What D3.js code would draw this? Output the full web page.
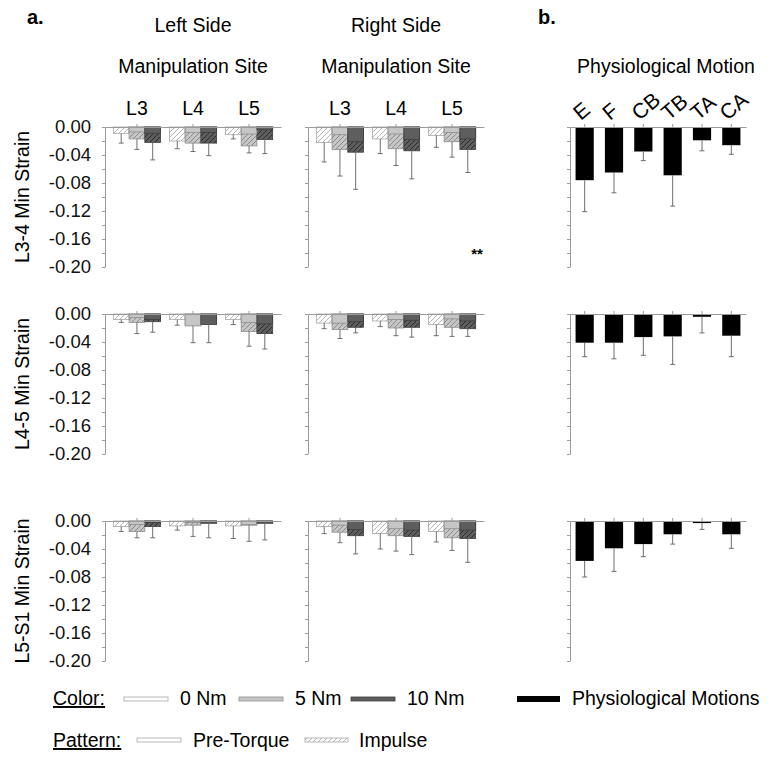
<!DOCTYPE html>
<html>
<head>
<meta charset="utf-8">
<script src="https://cdn.jsdelivr.net/npm/d3@7"></script>
<style>
body { margin: 0; background: #fff; }
svg { display: block; font-family: "Liberation Sans", Arial, sans-serif; }
</style>
</head>
<body>
<div id="chart"></div>
<script>
var width = 774;
var height = 763;

// categories
var rowNames = ["L3-4 Min Strain", "L4-5 Min Strain", "L5-S1 Min Strain"];
var sites = ["L3", "L4", "L5"];
var torques = ["0 Nm", "5 Nm", "10 Nm"];
var motions = ["E", "F", "CB", "TB", "TA", "CA"];
var yTicks = [0, -0.02, -0.04, -0.06, -0.08, -0.10, -0.12, -0.14, -0.16, -0.18, -0.20];

// left side, one row per level, values ordered L3 (0,5,10 Nm), L4 (...), L5 (...)
var leftPre = [
    [0, -0.007, -0.009, 0, -0.008, -0.008, 0, -0.010, -0.004],
    [0, -0.005, -0.008, 0, -0.017, -0.015, 0, -0.012, -0.014],
    [0, -0.005, -0.002, 0, -0.002, -0.003, 0, -0.005, -0.003]
];
var leftImpulse = [
    [-0.009, -0.017, -0.022, -0.020, -0.023, -0.023, -0.011, -0.027, -0.018],
    [-0.008, -0.012, -0.011, -0.008, -0.016, -0.014, -0.008, -0.025, -0.028],
    [-0.008, -0.015, -0.008, -0.007, -0.006, -0.003, -0.007, -0.006, -0.003]
];
var leftSD = [
    [0.014, 0.015, 0.025, 0.011, 0.012, 0.018, 0.006, 0.010, 0.020],
    [0.004, 0.016, 0.015, 0.008, 0.024, 0.026, 0.007, 0.021, 0.022],
    [0.007, 0.009, 0.016, 0.006, 0.016, 0.021, 0.018, 0.023, 0.024]
];

// right side
var rightPre = [
    [0, -0.011, -0.021, 0, -0.010, -0.018, 0, -0.008, -0.017],
    [0, -0.013, -0.011, 0, -0.008, -0.009, 0, -0.007, -0.010],
    [0, -0.006, -0.012, 0, -0.011, -0.013, 0, -0.011, -0.013]
];
var rightImpulse = [
    [-0.022, -0.032, -0.036, -0.017, -0.031, -0.034, -0.012, -0.021, -0.032],
    [-0.013, -0.022, -0.019, -0.010, -0.020, -0.019, -0.015, -0.019, -0.021],
    [-0.008, -0.016, -0.021, -0.018, -0.021, -0.022, -0.015, -0.024, -0.025]
];
var rightSD = [
    [0.028, 0.038, 0.053, 0.021, 0.024, 0.040, 0.017, 0.022, 0.033],
    [0.008, 0.013, 0.008, 0.008, 0.011, 0.014, 0.016, 0.013, 0.011],
    [0.010, 0.015, 0.026, 0.022, 0.022, 0.026, 0.015, 0.018, 0.034]
];

// physiological motions
var physMean = [
    [-0.076, -0.065, -0.035, -0.069, -0.019, -0.026],
    [-0.041, -0.041, -0.033, -0.032, -0.004, -0.031],
    [-0.057, -0.039, -0.033, -0.019, -0.003, -0.019]
];
var physSD = [
    [0.045, 0.029, 0.013, 0.044, 0.015, 0.013],
    [0.020, 0.023, 0.026, 0.040, 0.023, 0.030],
    [0.023, 0.033, 0.018, 0.014, 0.009, 0.020]
];

var torqueFill = ["#ffffff", "#c6c6c6", "#5e5e5e"];
var torqueStroke = ["#a8a8a8", "#8e8e8e", "#3e3e3e"];
var hatchStroke = ["#b4b4b4", "#8a8a8a", "#2a2a2a"];

var rowZero = [127, 314, 521];
var panelH = 140;
var panelW = 176;
var leftX = 105, rightX = 308, physX = 570;
var fs = "19.5px";

var svg = d3.select("#chart")
            .append("svg")
            .attr("width", width)
            .attr("height", height);

// hatch patterns
var defs = svg.append("defs");
torqueFill.forEach(function(c, k) {
    var p = defs.append("pattern")
        .attr("id", "hatch" + k)
        .attr("patternUnits", "userSpaceOnUse")
        .attr("width", 5)
        .attr("height", 5);
    p.append("rect").attr("width", 5).attr("height", 5).attr("fill", c);
    p.append("path")
        .attr("d", "M-1,1 l2,-2 M0,5 l5,-5 M4,6 l2,-2")
        .attr("stroke", hatchStroke[k])
        .attr("stroke-width", 1);
});

var y = d3.scaleLinear().domain([0, -0.2]).range([0, panelH]);

var xSite = d3.scaleBand().domain(sites).range([0, panelW]).paddingOuter(0.07);
var xTorque = d3.scaleBand().domain(torques).range([0, xSite.bandwidth()]).paddingOuter(0.28);
var xMotion = d3.scaleBand().domain(motions).range([0, panelW]).paddingInner(0.38).paddingOuter(0.19);

function drawAxes(g, xScale, showLabels) {
    var yAxis = d3.axisLeft(y)
        .tickValues(yTicks)
        .tickSize(3)
        .tickSizeOuter(0)
        .tickPadding(11)
        .tickFormat(function(d, i) { return (showLabels && i % 2 == 0) ? d.toFixed(2) : ""; });
    var ya = g.append("g").call(yAxis);
    ya.select(".domain").attr("stroke", "#9a9a9a");
    ya.selectAll(".tick line").attr("stroke", "#9a9a9a");
    ya.selectAll("text")
        .attr("fill", "#111")
        .style("font-size", "18.5px")
        .style("font-family", "Liberation Sans, Arial, sans-serif");

    var xAxis = d3.axisTop(xScale)
        .tickSize(3)
        .tickSizeOuter(0)
        .tickFormat("");
    var xa = g.append("g").call(xAxis);
    xa.select(".domain").attr("stroke", "#9a9a9a");
    xa.selectAll(".tick line").attr("stroke", "#9a9a9a");
}

function errorBar(g, cx, from, sd) {
    g.append("line")
        .attr("x1", cx).attr("x2", cx)
        .attr("y1", y(from)).attr("y2", y(from - sd))
        .attr("stroke", "#6e6e6e")
        .attr("stroke-width", 1);
    g.append("line")
        .attr("x1", cx - 2.5).attr("x2", cx + 2.5)
        .attr("y1", y(from - sd)).attr("y2", y(from - sd))
        .attr("stroke", "#6e6e6e")
        .attr("stroke-width", 1);
}

function drawSide(x0, pre, imp, sd) {
    rowZero.forEach(function(z, r) {
        var g = svg.append("g").attr("transform", "translate(" + x0 + "," + z + ")");
        var bars = [];
        sites.forEach(function(s, si) {
            torques.forEach(function(t, ti) {
                var i = si * 3 + ti;
                bars.push({ site: s, torque: t, k: ti, pre: pre[r][i], imp: imp[r][i], sd: sd[r][i] });
            });
        });

        var bx = function(d) { return xSite(d.site) + xTorque(d.torque); };
        var bw = xTorque.bandwidth();

        // impulse (hatched)
        g.selectAll("rect.imp")
            .data(bars)
            .enter().append("rect")
            .attr("class", "imp")
            .attr("x", bx)
            .attr("y", y(0))
            .attr("width", bw)
            .attr("height", function(d) { return y(d.imp) - y(0); })
            .attr("fill", function(d) { return "url(#hatch" + d.k + ")"; })
            .attr("stroke", function(d) { return torqueStroke[d.k]; })
            .attr("stroke-width", 0.8);

        // pre-torque (solid)
        g.selectAll("rect.pre")
            .data(bars.filter(function(d) { return d.pre < 0; }))
            .enter().append("rect")
            .attr("class", "pre")
            .attr("x", bx)
            .attr("y", y(0))
            .attr("width", bw)
            .attr("height", function(d) { return y(d.pre) - y(0); })
            .attr("fill", function(d) { return torqueFill[d.k]; })
            .attr("stroke", function(d) { return torqueStroke[d.k]; })
            .attr("stroke-width", 0.8);

        bars.forEach(function(d) {
            errorBar(g, bx(d) + bw / 2, Math.min(d.pre, d.imp), d.sd);
        });

        drawAxes(g, xSite, x0 == leftX);

        if (r == 0) {
            g.selectAll("text.site")
                .data(sites)
                .enter().append("text")
                .attr("class", "site")
                .attr("x", function(d) { return xSite(d) + xSite.bandwidth() / 2; })
                .attr("y", -12)
                .attr("text-anchor", "middle")
                .style("font-size", fs)
                .text(function(d) { return d; });
        }
    });
}

drawSide(leftX, leftPre, leftImpulse, leftSD);
drawSide(rightX, rightPre, rightImpulse, rightSD);

// physiological motion panel
rowZero.forEach(function(z, r) {
    var g = svg.append("g").attr("transform", "translate(" + physX + "," + z + ")");
    g.selectAll("rect")
        .data(motions)
        .enter().append("rect")
        .attr("x", function(d) { return xMotion(d); })
        .attr("y", y(0))
        .attr("width", xMotion.bandwidth())
        .attr("height", function(d, i) { return y(physMean[r][i]) - y(0); })
        .attr("fill", "#000");
    motions.forEach(function(m, i) {
        errorBar(g, xMotion(m) + xMotion.bandwidth() / 2, physMean[r][i], physSD[r][i]);
    });
    drawAxes(g, xMotion, false);

    if (r == 0) {
        g.selectAll("text.motion")
            .data(motions)
            .enter().append("text")
            .attr("class", "motion")
            .attr("transform", function(d) {
                return "translate(" + (xMotion(d) + xMotion.bandwidth() / 2 - 4) + ",-6) rotate(-40)";
            })
            .style("font-size", "21px")
            .text(function(d) { return d; });
    }
});

// row titles
rowZero.forEach(function(z, r) {
    svg.append("text")
        .attr("transform", "translate(29," + (z + panelH / 2) + ") rotate(-90)")
        .attr("text-anchor", "middle")
        .style("font-size", fs)
        .text(rowNames[r]);
});

// headers
svg.append("text").attr("x", 27).attr("y", 24)
    .style("font-size", "20px").style("font-weight", "bold").text("a.");
svg.append("text").attr("x", 538).attr("y", 24)
    .style("font-size", "20px").style("font-weight", "bold").text("b.");

var headers = [
    { x: leftX + panelW / 2, y: 32, t: "Left Side" },
    { x: leftX + panelW / 2, y: 73, t: "Manipulation Site" },
    { x: rightX + panelW / 2, y: 32, t: "Right Side" },
    { x: rightX + panelW / 2, y: 73, t: "Manipulation Site" },
    { x: 666, y: 73, t: "Physiological Motion" }
];
headers.forEach(function(h) {
    svg.append("text")
        .attr("x", h.x).attr("y", h.y)
        .attr("text-anchor", "middle")
        .style("font-size", fs)
        .text(h.t);
});

// significance mark
svg.append("text")
    .attr("x", rightX + 169).attr("y", 259)
    .attr("text-anchor", "middle")
    .style("font-size", "15px")
    .style("font-weight", "bold")
    .text("**");

// legend
var leg = svg.append("g");
leg.append("text").attr("x", 53).attr("y", 705)
    .style("font-size", fs).style("text-decoration", "underline").text("Color:");
var colorX = [124, 239, 351];
torques.forEach(function(t, k) {
    leg.append("rect")
        .attr("x", colorX[k]).attr("y", 697)
        .attr("width", 44).attr("height", 4)
        .attr("fill", torqueFill[k])
        .attr("stroke", torqueStroke[k])
        .attr("stroke-width", 0.8);
    leg.append("text")
        .attr("x", colorX[k] + 56).attr("y", 705)
        .style("font-size", fs)
        .text(t);
});
leg.append("rect")
    .attr("x", 517).attr("y", 696)
    .attr("width", 43).attr("height", 6)
    .attr("fill", "#000");
leg.append("text").attr("x", 572).attr("y", 705)
    .style("font-size", fs).text("Physiological Motions");

leg.append("text").attr("x", 53).attr("y", 747)
    .style("font-size", fs).style("text-decoration", "underline").text("Pattern:");
leg.append("rect")
    .attr("x", 137).attr("y", 738)
    .attr("width", 44).attr("height", 4)
    .attr("fill", "#fff")
    .attr("stroke", "#a8a8a8")
    .attr("stroke-width", 0.8);
leg.append("text").attr("x", 193).attr("y", 747)
    .style("font-size", fs).text("Pre-Torque");
leg.append("rect")
    .attr("x", 305).attr("y", 738)
    .attr("width", 43).attr("height", 4)
    .attr("fill", "url(#hatch0)")
    .attr("stroke", "#a8a8a8")
    .attr("stroke-width", 0.8);
leg.append("text").attr("x", 359).attr("y", 747)
    .style("font-size", fs).text("Impulse");
</script>
</body>
</html>
